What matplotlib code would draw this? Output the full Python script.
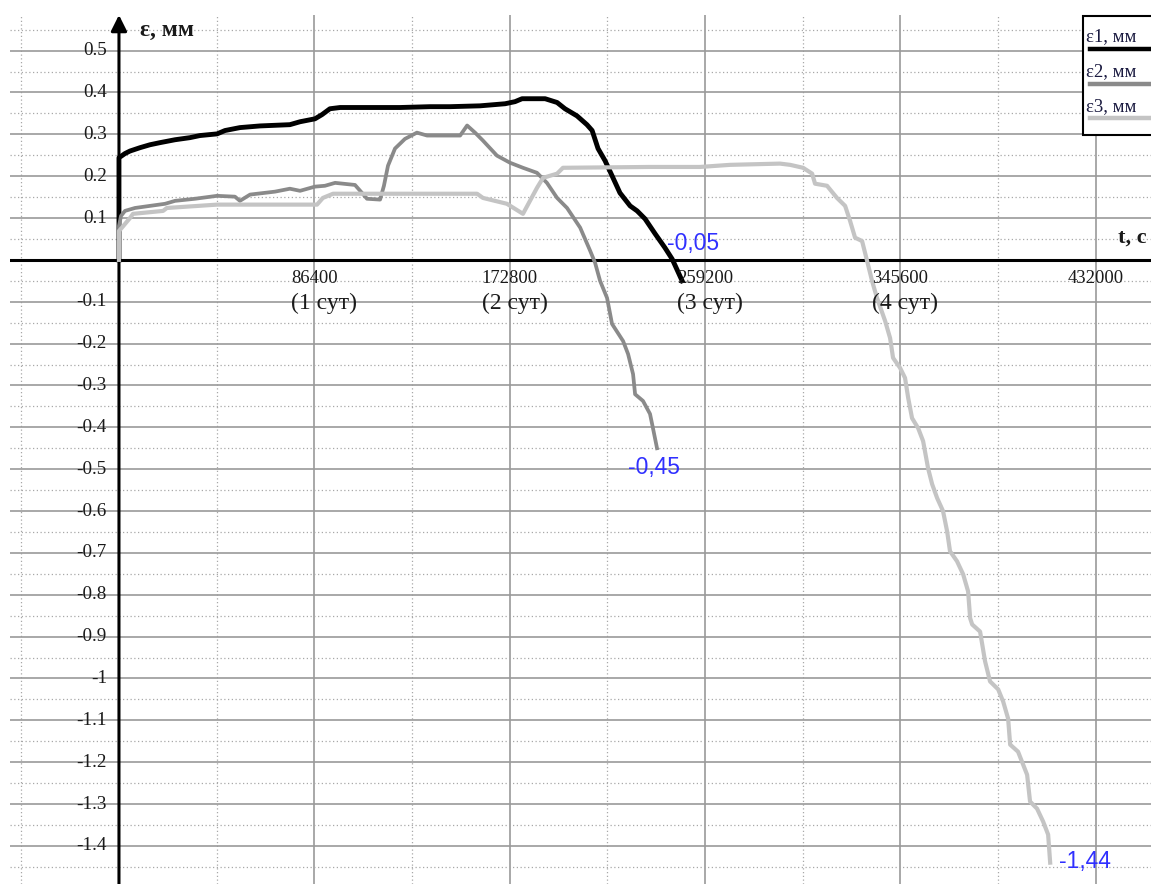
import numpy as np
import matplotlib
matplotlib.use("Agg")
import matplotlib.pyplot as plt
from matplotlib.patches import Rectangle
from matplotlib.lines import Line2D

# ── DATA (t in seconds, eps in mm) ───────────────────────────
t1 = [0, 0, 0, 2650, 4870, 9290, 13700, 18100, 24800, 31400, 35800, 43400,
      46900, 53500, 62400, 75600, 80100, 86700, 89800, 93300, 97800, 124300,
      137600, 146400, 159700, 170800, 175200, 178300, 188500, 193800, 197300,
      202600, 207000, 209300, 211900, 215000, 218100, 221600, 226100, 229200,
      232700, 237200, 241500, 244700, 249100]
e1 = [0, 0.19, 0.244, 0.254, 0.26, 0.268, 0.275, 0.28, 0.287, 0.292, 0.297, 0.301,
      0.309, 0.316, 0.32, 0.323, 0.33, 0.337, 0.347, 0.361, 0.364, 0.364,
      0.366, 0.366, 0.368, 0.373, 0.378, 0.385, 0.385, 0.376, 0.361,
      0.344, 0.323, 0.309, 0.266, 0.237, 0.201, 0.16, 0.129, 0.117,
      0.098, 0.062, 0.029, 0.002, -0.05]

t2 = [0, 0, 900, 2650, 7100, 13700, 20400, 24800, 33600, 43400, 51300, 53500,
      58000, 69000, 75600, 80100, 86700, 91100, 95600, 104400, 107500, 109700,
      115500, 117200, 119000, 122100, 126500, 131800, 136300, 150900, 154000,
      157500, 161000, 167200, 173000, 178700, 184900, 189300, 193800, 198200,
      204000, 208400, 210600, 212800, 215900, 218100, 223000, 225200, 227400,
      228300, 231800, 234900, 236200, 238000]
e2 = [0, 0.081, 0.105, 0.117, 0.124, 0.129, 0.134, 0.141, 0.146, 0.153, 0.151, 0.141,
      0.156, 0.163, 0.17, 0.165, 0.175, 0.177, 0.184, 0.179, 0.16, 0.146,
      0.144, 0.177, 0.225, 0.266, 0.289, 0.304, 0.297, 0.297, 0.321,
      0.304, 0.285, 0.249, 0.232, 0.22, 0.208, 0.184, 0.148, 0.124,
      0.077, 0.022, -0.007, -0.05, -0.091, -0.153, -0.194, -0.225, -0.273,
      -0.321, -0.337, -0.368, -0.402, -0.45]

t3 = [0, 0, 1300, 4870, 6200, 19500, 21200, 43400, 87600, 90200, 94700, 124300,
      158400, 161000, 171600, 178700, 184900, 187600, 193800, 196400, 234900,
      257000, 270300, 292400, 296900, 302600, 306600, 307900, 313200, 317600,
      321200, 323400, 325600, 328700, 330900, 333100, 335300, 338900, 341100,
      342400, 345500, 347700, 349100, 350800, 353500, 355700, 357900, 359700,
      361900, 364500, 366300, 367600, 370700, 373400, 375600, 376500, 377400,
      380900, 383100, 385300, 388900, 391100, 393300, 394200, 397700, 401700,
      403000, 406100, 408800, 411000, 411900]
e3 = [0, 0.069, 0.077, 0.1, 0.11, 0.117, 0.124, 0.132, 0.132, 0.148, 0.158, 0.158,
      0.158, 0.148, 0.134, 0.11, 0.172, 0.196, 0.206, 0.22, 0.222,
      0.222, 0.227, 0.23, 0.227, 0.22, 0.206, 0.182, 0.177, 0.148,
      0.129, 0.093, 0.053, 0.045, -0.002, -0.05, -0.091, -0.146, -0.187,
      -0.234, -0.258, -0.282, -0.33, -0.378, -0.402, -0.433, -0.498, -0.536,
      -0.569, -0.6, -0.648, -0.696, -0.72, -0.751, -0.792, -0.856, -0.871,
      -0.888, -0.959, -1.007, -1.026, -1.055, -1.096, -1.158, -1.175, -1.23,
      -1.294, -1.311, -1.342, -1.373, -1.44]

labels = ["ε1, мм", "ε2, мм", "ε3, мм"]
colors = ["#000000", "#8a8a8a", "#c4c4c4"]
widths = [3.5, 2.7, 3.0]

day = 86400
x_ticks = [day, 2 * day, 3 * day, 4 * day, 5 * day]
x_sub = ["(1 сут)", "(2 сут)", "(3 сут)", "(4 сут)", ""]
y_ticks = [0.5, 0.4, 0.3, 0.2, 0.1, -0.1, -0.2, -0.3, -0.4, -0.5, -0.6, -0.7,
           -0.8, -0.9, -1.0, -1.1, -1.2, -1.3, -1.4]

SERIF = "Liberation Serif"
SANS = "Liberation Sans"
TXT = "#1a1a1a"
BLUE = "#3030ff"

W, H = 1151, 884
fig = plt.figure(figsize=(W / 100, H / 100), dpi=100)
ax = fig.add_axes([10 / W, 0, 1 - 10 / W, 1 - 15 / H])

XMIN, XMAX = -48200, 456500
YMIN, YMAX = -1.491, 0.585
ax.set_xlim(XMIN, XMAX)
ax.set_ylim(YMIN, YMAX)

# grid
ax.set_xticks(np.arange(day, XMAX, day))
ax.set_xticks(np.arange(-day / 2, XMAX, day), minor=True)
ax.set_yticks(np.arange(-1.4, 0.55, 0.1))
ax.set_yticks(np.arange(-1.45, 0.6, 0.1), minor=True)
ax.grid(True, which="major", color="#9a9a9a", lw=1.2)
ax.grid(True, which="minor", color="#a8a8a8", lw=0.9, ls=(0, (1, 2)))
ax.tick_params(which="both", length=0, labelbottom=False, labelleft=False)
for s in ax.spines.values():
    s.set_visible(False)
ax.set_axisbelow(True)

# axes through the origin
ax.axhline(0, color="black", lw=2.2, zorder=3)
ax.annotate("", xy=(0, YMAX), xytext=(0, YMIN), xycoords="data",
            arrowprops=dict(arrowstyle="-|>", color="black", lw=2.2,
                            mutation_scale=24, shrinkA=0, shrinkB=0),
            annotation_clip=False, zorder=3)

# curves
series = [(t1, e1), (t2, e2), (t3, e3)]
for (t, e), c, lw in zip(series, colors, widths):
    ax.plot(t, e, color=c, lw=lw, solid_joinstyle="round", zorder=4)

# end value labels
offsets = [(-11, 27), (-21, -14), (6, 1)]
for (t, e), off in zip(series, offsets):
    ax.annotate(f"{e[-1]:.2f}".replace(".", ","), xy=(t[-1], e[-1]),
                xytext=off, textcoords="offset points", ha="left", va="center",
                fontsize=16.5, color=BLUE, family=SANS, zorder=5)

# y tick labels
for v in y_ticks:
    lab = f"{v:g}"
    ax.text(-5300, v, lab, ha="right", va="center", fontsize=13.8,
            color=TXT, family=SERIF, zorder=5)

# x tick labels
for xv, sub in zip(x_ticks, x_sub):
    tx = ax.text(xv, -0.045, f"{xv}", ha="center", va="center",
                 fontsize=13.4, color=TXT, family=SERIF, zorder=5)
    if sub:
        ax.annotate(sub, xy=(0, 0.5), xycoords=tx, xytext=(0, -18),
                    textcoords="offset points", ha="left", va="center",
                    fontsize=17, color=TXT, family=SERIF, zorder=5)

# axis names
ax.text(9300, 0.547, "ε, мм", ha="left", va="center", fontsize=17,
        fontweight="bold", color=TXT, family=SERIF, zorder=5)
ax.text(442000, 0.053, "t, с", ha="left", va="center", fontsize=16,
        fontweight="bold", color=TXT, family=SERIF, zorder=5, clip_on=False)

# legend box (text above a line sample)
fig.patches.append(Rectangle((1083 / W, 1 - 135 / H), 0.1, 119 / H,
                             transform=fig.transFigure, facecolor="white",
                             edgecolor="black", lw=1.5, zorder=10))
leg_text_y = [37, 72, 107]
leg_line_y = [49, 84, 118]
for lab, c, ty, ly in zip(labels, colors, leg_text_y, leg_line_y):
    fig.text(1086 / W, 1 - ty / H, lab, ha="left", va="center", fontsize=13.5,
             color="#1a1a40", family=SERIF, zorder=11)
    fig.lines.append(Line2D([1090 / W, 1.0], [1 - ly / H, 1 - ly / H],
                            transform=fig.transFigure, color=c, lw=3.2,
                            zorder=11))

fig.savefig("out.png", dpi=100, facecolor="white")
